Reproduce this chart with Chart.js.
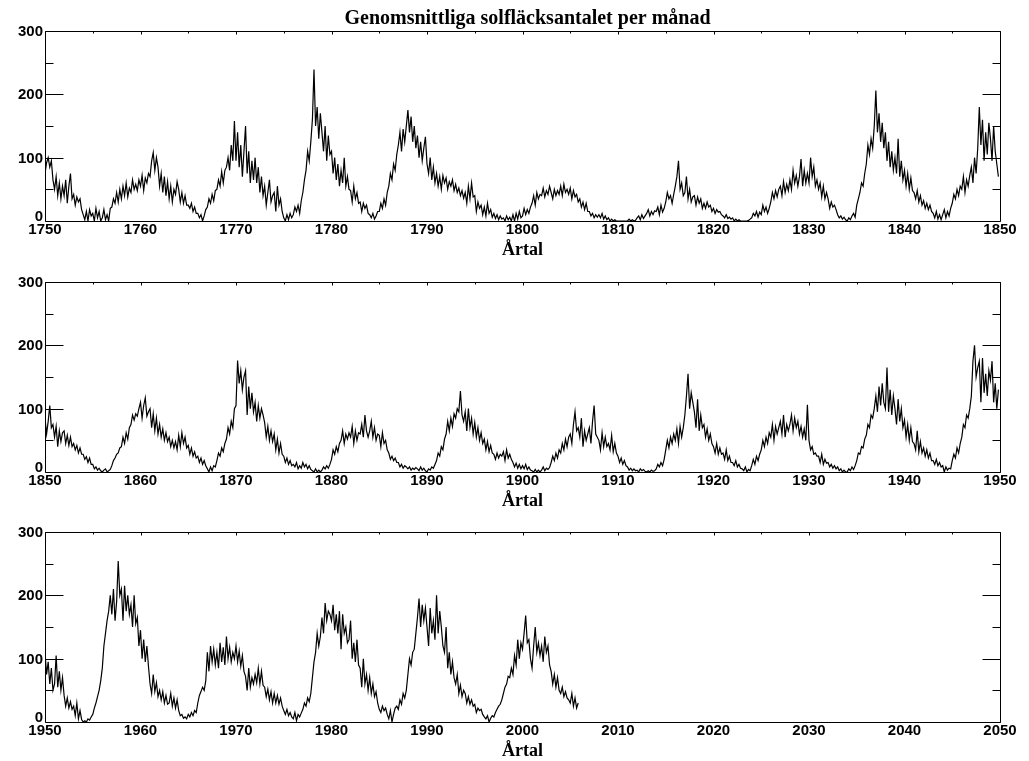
<!DOCTYPE html>
<html>
<head>
<meta charset="utf-8">
<script src="https://cdn.jsdelivr.net/npm/chart.js@4/dist/chart.umd.min.js"></script>
<style>
  html, body { margin: 0; padding: 0; background: #fff; width: 1029px; height: 761px; overflow: hidden; }
  .panel { position: absolute; left: 0; width: 1029px; height: 261px; }
</style>
</head>
<body>
<div class="panel" style="top:0px"><canvas id="p1" width="1029" height="261"></canvas></div>
<div class="panel" style="top:251px"><canvas id="p2" width="1029" height="261"></canvas></div>
<div class="panel" style="top:501px"><canvas id="p3" width="1029" height="261"></canvas></div>
<script>
// Monthly mean sunspot number, sampled six times a year (every second month).
const TITLE = 'Genomsnittliga solfläcksantalet per månad';
const X_LABEL = 'Årtal';
const SAMPLES_PER_YEAR = 6;

const yTicks = [0, 100, 200, 300];
const yMinorTicks = [50, 150, 250];

// 1750 – 1849
const sunspots1750 = [
  75,92,100,85,95,65, 50,70,40,60,35,55, 40,65,28,55,75,35, 42,25,38,30,35,18, 10,2,15,0,18,8,
  12,0,20,5,15,0, 5,18,2,10,0,20, 22,35,28,45,30,50, 35,55,40,60,38,52, 45,65,50,58,48,65,
  55,72,48,68,60,75, 70,95,108,80,100,85, 55,75,45,70,40,62, 35,55,30,50,42,62, 50,30,45,28,40,25,
  25,20,28,15,22,12, 12,5,10,0,8,18, 22,35,28,42,32,48, 50,65,55,78,60,80, 85,100,80,120,95,158,
  95,140,85,120,70,110, 150,75,110,60,95,65, 100,60,85,45,70,40, 55,25,45,65,30,40, 45,15,55,25,35,15,
  5,0,10,2,12,5, 10,22,15,25,12,32, 45,65,80,110,95,125, 160,239,150,180,130,170, 140,110,150,95,135,105,
  110,75,100,65,90,55, 80,60,100,55,70,50, 48,30,55,35,45,28, 30,15,28,20,25,12, 10,5,12,3,8,15,
  15,28,20,35,25,45, 55,75,65,90,80,105, 120,140,110,145,125,150, 175,140,165,125,150,115, 135,100,125,95,115,133,
  90,75,100,65,85,60, 75,55,70,50,72,60, 68,50,62,55,65,48, 58,45,52,40,48,36, 45,28,55,35,60,38,
  40,15,30,20,25,10, 22,8,28,12,18,6, 12,4,10,2,8,3, 5,0,8,2,6,0, 10,0,12,3,15,5,
  8,20,10,18,12,22, 28,40,25,45,35,42, 40,52,38,48,42,55, 45,35,50,40,48,42, 55,40,58,45,50,42,
  52,35,48,38,42,30, 35,22,30,18,28,15, 15,8,12,5,10,6, 10,5,12,3,8,2, 5,0,3,0,2,0,
  0,0,0,0,0,0, 0,3,0,2,0,1, 5,8,2,10,4,8, 12,18,8,15,10,16, 15,22,10,25,14,20,
  30,45,35,40,28,42, 55,70,95,50,60,40, 45,70,35,50,30,38, 40,25,38,28,35,20, 28,20,30,22,25,15,
  20,12,18,14,15,10, 8,5,10,4,6,3, 5,0,3,0,2,0, 0,0,0,0,1,3, 5,12,8,15,6,14,
  10,25,15,22,12,20, 30,45,35,48,38,50, 55,40,62,45,58,48, 65,50,80,60,72,55, 70,98,55,80,60,75,
  60,100,70,85,55,65, 50,60,38,55,35,45, 35,20,30,22,25,18, 10,5,8,3,6,2, 0,5,2,8,12,6,
  25,35,45,60,55,75, 90,120,105,130,115,150, 206,140,170,125,155,115, 140,95,125,85,110,80, 100,75,130,70,95,65,
  80,55,75,50,68,48, 45,35,48,30,40,25, 32,20,28,18,25,15, 12,5,15,3,10,2, 10,18,5,15,8,20,
  28,42,35,50,40,55, 50,70,45,65,55,72, 85,60,100,75,115,180, 120,160,95,140,105,155, 130,95,150,110,90,70
];

// 1850 – 1949
const sunspots1850 = [
  85,60,80,105,70,75, 55,72,40,65,48,62, 65,45,58,42,55,40, 45,35,42,30,38,28, 28,20,24,15,22,12,
  12,5,8,3,6,2, 0,3,5,0,2,4, 10,18,22,28,30,38, 40,55,45,62,52,70, 75,90,82,92,88,100,
  110,85,105,117,88,95, 100,70,92,65,85,60, 75,55,68,50,62,48, 55,40,50,38,48,35, 58,40,62,45,55,38,
  42,28,38,25,32,22, 25,15,22,12,18,10, 5,0,8,2,10,8, 18,30,25,38,32,45, 52,70,60,80,70,100,
  105,176,140,160,130,150, 160,90,135,100,125,95, 110,80,105,85,100,90, 78,55,72,50,65,48, 60,35,52,30,45,28,
  25,15,22,12,18,10, 12,8,15,5,10,6, 15,8,12,5,10,4, 2,0,5,0,3,0, 3,8,5,10,6,12,
  20,35,28,40,32,45, 50,65,45,60,52,62, 55,72,45,65,50,62, 60,75,55,90,65,55, 65,80,55,70,50,60,
  58,40,62,45,50,35, 30,20,25,18,22,15, 15,8,12,6,10,8, 5,8,3,6,4,7, 5,2,8,3,6,2,
  0,5,3,8,6,12, 18,30,25,40,35,52, 60,80,65,85,72,92, 85,100,95,128,90,80, 95,65,100,70,85,60,
  78,55,70,50,62,45, 52,35,48,32,42,30, 28,20,30,22,28,25, 32,18,35,22,28,20, 15,8,14,6,12,5,
  10,5,12,4,8,3, 2,0,4,0,3,0, 3,8,2,6,4,7, 15,25,18,30,22,35, 30,45,35,52,40,55,
  60,45,75,95,65,70, 55,85,40,65,50,60, 70,45,80,105,60,55, 50,35,62,40,55,40, 45,35,58,32,45,30,
  25,15,22,12,18,10, 8,3,6,2,5,2, 3,0,5,2,4,1, 0,2,0,3,1,2, 5,12,8,15,10,20,
  35,50,38,55,45,60, 50,68,45,72,55,70, 90,120,155,100,125,110, 95,70,115,65,90,70, 75,55,68,50,60,45,
  40,30,45,28,38,28, 30,20,35,18,25,15, 15,10,18,8,12,6, 5,2,8,0,4,2, 10,20,12,25,18,28,
  35,50,40,55,45,62, 55,75,50,72,60,70, 80,60,90,55,75,65, 75,90,65,85,70,80, 60,72,55,68,50,106,
  50,35,40,28,30,25, 25,15,28,12,20,14, 15,8,12,6,10,5, 8,2,5,0,3,0, 0,5,2,8,4,10,
  18,30,28,40,38,52, 58,75,70,90,85,100, 120,95,135,105,140,110, 100,165,95,130,90,120, 100,75,115,80,100,70,
  82,55,75,50,70,48, 45,35,65,32,48,30, 38,25,35,22,30,18, 18,12,20,10,15,8, 10,0,8,3,6,5,
  18,28,22,38,30,45, 55,75,70,90,85,100, 120,175,200,150,165,175, 110,180,125,155,120,160, 145,175,110,140,100,130
];

// 1950 – 2005
const sunspots1950 = [
  110,75,95,60,85,50, 60,105,55,80,50,70, 42,25,38,22,32,20, 25,10,30,5,18,4, 0,2,0,5,3,8,
  12,22,30,40,50,65, 85,120,140,160,175,200, 170,210,160,190,254,200, 210,160,215,175,200,170, 185,150,200,155,165,120,
  145,100,130,95,120,88, 60,45,75,48,62,40, 50,35,48,30,42,28, 30,45,25,38,22,35, 18,10,12,6,8,5,
  12,8,15,10,18,15, 30,42,48,55,50,65, 110,80,120,95,115,90, 110,85,125,95,118,90, 135,100,118,95,110,100,
  120,95,112,88,105,80, 72,50,85,55,70,60, 75,62,85,60,80,58, 55,40,52,35,48,30, 45,30,42,28,38,25,
  18,12,20,10,15,8, 5,15,2,12,8,14, 20,30,25,38,32,45, 70,95,110,140,120,135, 165,140,188,160,175,170,
  160,185,145,170,140,175, 115,170,140,150,125,130, 160,100,125,95,130,90, 85,55,100,60,75,50, 70,45,60,40,48,30,
  20,15,25,18,22,12, 5,18,0,12,22,25, 20,35,28,45,38,50, 75,100,90,110,115,140, 165,195,150,185,160,180,
  150,120,180,140,160,130, 200,140,175,150,120,110, 150,85,110,75,95,70, 60,75,45,58,40,50, 45,30,40,28,35,25,
  28,15,22,18,20,12, 8,5,10,0,6,10, 8,15,20,25,28,35, 45,55,60,72,70,85, 75,105,90,130,100,125,
  115,140,168,125,130,100, 85,120,150,110,125,105, 120,95,135,110,120,90, 80,60,75,55,70,50, 45,55,40,48,38,35,
  30,45,25,38,22,30
];

const panels = [
  { id: 'p1', from: 1750, to: 1850, values: sunspots1750, title: TITLE },
  { id: 'p2', from: 1850, to: 1950, values: sunspots1850 },
  { id: 'p3', from: 1950, to: 2050, values: sunspots1950 }
];

const TICK_FONT = 'bold 15px "Liberation Sans", Arial, sans-serif';

// Box with inward ticks on all sides, y labels and the optional main title.
const framePlugin = {
  id: 'frame',
  afterDraw(chart, args, opts) {
    const { ctx, chartArea: a, scales: { x, y } } = chart;
    const L = Math.round(a.left) + 0.5, R = Math.round(a.right) + 0.5;
    const T = Math.round(a.top) + 0.5, B = Math.round(a.bottom) + 0.5;
    ctx.save();
    ctx.strokeStyle = '#000';
    ctx.lineWidth = 1;
    ctx.beginPath();
    ctx.rect(L, T, R - L, B - T);
    const yTick = (v, len) => {
      const py = Math.round(y.getPixelForValue(v)) + 0.5;
      ctx.moveTo(L, py); ctx.lineTo(L + len, py);
      ctx.moveTo(R, py); ctx.lineTo(R - len, py);
    };
    yTicks.forEach(v => yTick(v, 18));
    yMinorTicks.forEach(v => yTick(v, 8));
    for (let yr = x.min; yr <= x.max; yr += 5) {
      const px = Math.round(x.getPixelForValue(yr)) + 0.5;
      const len = (yr % 10 === 0) ? 3 : 2;
      ctx.moveTo(px, T); ctx.lineTo(px, T + len);
    }
    ctx.stroke();

    ctx.fillStyle = '#000';
    ctx.font = TICK_FONT;
    ctx.textAlign = 'right';
    yTicks.forEach(v => {
      const py = y.getPixelForValue(v);
      if (v === 0) {
        ctx.textBaseline = 'alphabetic';
        ctx.fillText(String(v), a.left - 2, py);
      } else {
        ctx.textBaseline = 'middle';
        ctx.fillText(String(v), a.left - 2, py + 1);
      }
    });

    if (opts.title) {
      ctx.font = 'bold 20px "Liberation Serif", "Times New Roman", serif';
      ctx.textAlign = 'center';
      ctx.textBaseline = 'alphabetic';
      ctx.fillText(opts.title, (a.left + a.right) / 2 + 5, 24);
    }
    ctx.restore();
  }
};

panels.forEach(p => {
  const points = p.values.map((v, i) => ({ x: p.from + i / SAMPLES_PER_YEAR, y: v }));
  new Chart(document.getElementById(p.id), {
    type: 'line',
    data: {
      datasets: [{
        data: points,
        borderColor: '#000',
        borderWidth: 1.2,
        pointRadius: 0,
        tension: 0,
        fill: false
      }]
    },
    options: {
      responsive: false,
      animation: false,
      events: [],
      layout: { padding: { left: 0, right: 29, top: 31, bottom: 0 } },
      plugins: {
        legend: { display: false },
        tooltip: { enabled: false },
        frame: { title: p.title || null }
      },
      scales: {
        x: {
          type: 'linear',
          min: p.from,
          max: p.to,
          grid: { display: false, drawTicks: false },
          border: { display: false },
          ticks: {
            stepSize: 10,
            autoSkip: false,
            maxRotation: 0,
            padding: 0,
            color: '#000',
            font: { family: '"Liberation Sans", Arial, sans-serif', size: 15, weight: 'bold' },
            callback: v => String(v)
          },
          title: {
            display: true,
            text: X_LABEL,
            color: '#000',
            padding: { top: 0, bottom: 0 },
            font: { family: '"Liberation Serif", "Times New Roman", serif', size: 18, weight: 'bold' }
          },
          afterFit: s => { s.height = 40; }
        },
        y: {
          min: 0,
          max: 300,
          grid: { display: false, drawTicks: false },
          border: { display: false },
          ticks: { display: false, stepSize: 100 },
          afterFit: s => { s.width = 45; }
        }
      }
    },
    plugins: [framePlugin]
  });
});
</script>
</body>
</html>
